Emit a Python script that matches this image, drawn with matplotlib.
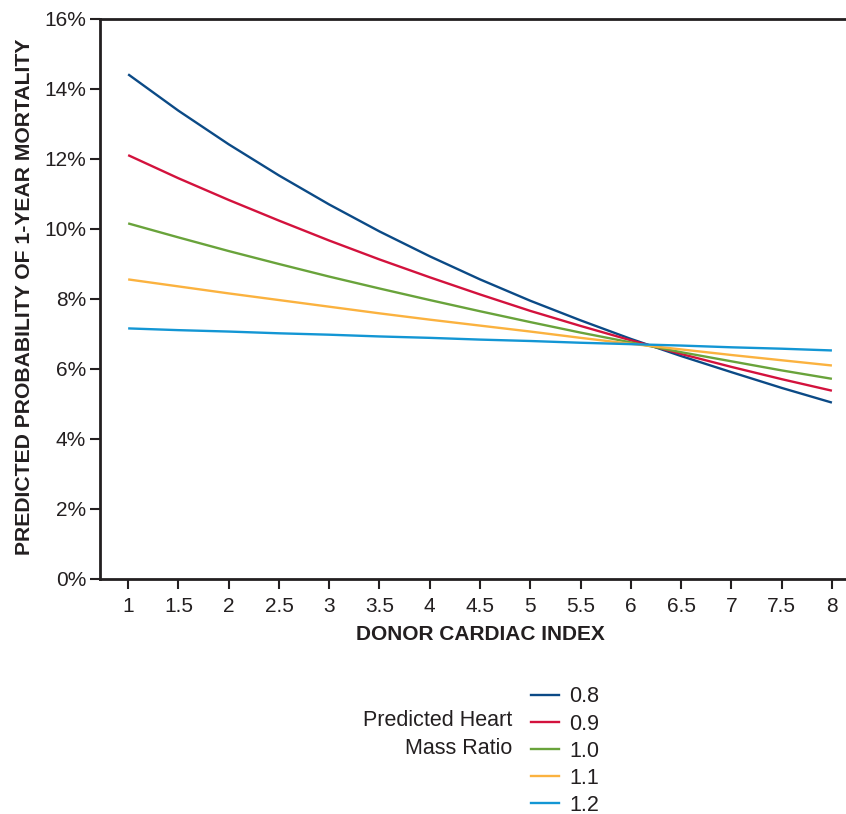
import matplotlib
matplotlib.use("Agg")
import matplotlib.pyplot as plt
from matplotlib.ticker import FuncFormatter
from matplotlib.lines import Line2D

# Donor cardiac index
cardiac_index = [1, 1.5, 2, 2.5, 3, 3.5, 4, 4.5, 5, 5.5, 6, 6.5, 7, 7.5, 8]

# Predicted probability of 1-year mortality (%) by predicted heart mass ratio
mort_08 = [14.42, 13.38, 12.42, 11.53, 10.70, 9.93, 9.22, 8.56, 7.95, 7.39, 6.86, 6.37, 5.91, 5.46, 5.04]
mort_09 = [12.11, 11.45, 10.83, 10.24, 9.67, 9.13, 8.62, 8.13, 7.66, 7.23, 6.82, 6.43, 6.06, 5.71, 5.38]
mort_10 = [10.16, 9.76, 9.37, 9.00, 8.64, 8.30, 7.97, 7.65, 7.34, 7.04, 6.76, 6.48, 6.22, 5.96, 5.72]
mort_11 = [8.56, 8.36, 8.16, 7.97, 7.78, 7.59, 7.41, 7.24, 7.07, 6.89, 6.72, 6.56, 6.40, 6.25, 6.10]
mort_12 = [7.16, 7.11, 7.07, 7.02, 6.98, 6.93, 6.89, 6.84, 6.80, 6.75, 6.71, 6.67, 6.62, 6.58, 6.53]

series_labels = ["0.8", "0.9", "1.0", "1.1", "1.2"]
series_values = [mort_08, mort_09, mort_10, mort_11, mort_12]
colors = ["#0b4a86", "#d3123d", "#69a33b", "#fbb23f", "#1396d4"]

x_ticks = [1, 1.5, 2, 2.5, 3, 3.5, 4, 4.5, 5, 5.5, 6, 6.5, 7, 7.5, 8]
y_ticks = [0, 2, 4, 6, 8, 10, 12, 14, 16]

FONT = ["Liberation Sans", "DejaVu Sans"]
INK = "#231f20"

W, H = 846, 814
fig = plt.figure(figsize=(W / 100, H / 100), dpi=100)
ax = fig.add_axes([100 / W, 1 - 579 / H, 1 - 100 / W, (579 - 19) / H])

for vals, c in zip(series_values, colors):
    ax.plot(cardiac_index, vals, color=c, lw=1.7, solid_capstyle="butt")

ax.set_xlim(0.72, 8.14)
ax.set_ylim(0, 16)
ax.set_xticks(x_ticks)
ax.set_xticklabels([f"{v:g}" for v in x_ticks])
ax.set_yticks(y_ticks)
ax.yaxis.set_major_formatter(FuncFormatter(lambda v, p: f"{v:.0f}%"))

for s in ["left", "top", "bottom"]:
    ax.spines[s].set_linewidth(2.0)
    ax.spines[s].set_color(INK)
ax.spines["right"].set_visible(False)

ax.tick_params(axis="both", direction="out", length=7, width=1.5, color=INK)
ax.tick_params(axis="x", pad=6)
ax.tick_params(axis="y", pad=3)
for lab in ax.get_xticklabels():
    lab.set_fontfamily(FONT)
    lab.set_fontsize(15)
    lab.set_color(INK)
for lab in ax.get_yticklabels():
    lab.set_fontfamily(FONT)
    lab.set_fontsize(15)
    lab.set_color(INK)

ax.set_xlabel("DONOR CARDIAC INDEX", fontsize=15, fontweight="bold",
              family=FONT, color=INK)
ax.xaxis.set_label_coords((480 - 100) / (W - 100), -(634 - 579) / 560)
ax.xaxis.label.set_verticalalignment("center")
ax.set_ylabel("PREDICTED PROBABILITY OF 1-YEAR MORTALITY", fontsize=15.2, fontweight="bold",
              family=FONT, color=INK)
ax.yaxis.set_label_coords((25 - 100) / (W - 100), (579 - 297) / 560)
ax.yaxis.label.set_verticalalignment("center")

handles = [Line2D([], [], color=c, lw=1.7) for c in colors]
leg = fig.legend(handles, series_labels, loc="upper left",
                 bbox_to_anchor=(531 / W, 1 - 686.5 / H), frameon=False,
                 prop={"family": FONT, "size": 15.5},
                 handlelength=1.3, handletextpad=0.47, labelspacing=0.28,
                 borderaxespad=0, borderpad=0)
for t in leg.get_texts():
    t.set_color(INK)

fig.text(512 / W, 1 - 721 / H, "Predicted Heart", ha="right", va="center",
         fontsize=15.5, family=FONT, color=INK)
fig.text(512 / W, 1 - 748 / H, "Mass Ratio", ha="right", va="center",
         fontsize=15.5, family=FONT, color=INK)

fig.savefig("out.png", dpi=100)
